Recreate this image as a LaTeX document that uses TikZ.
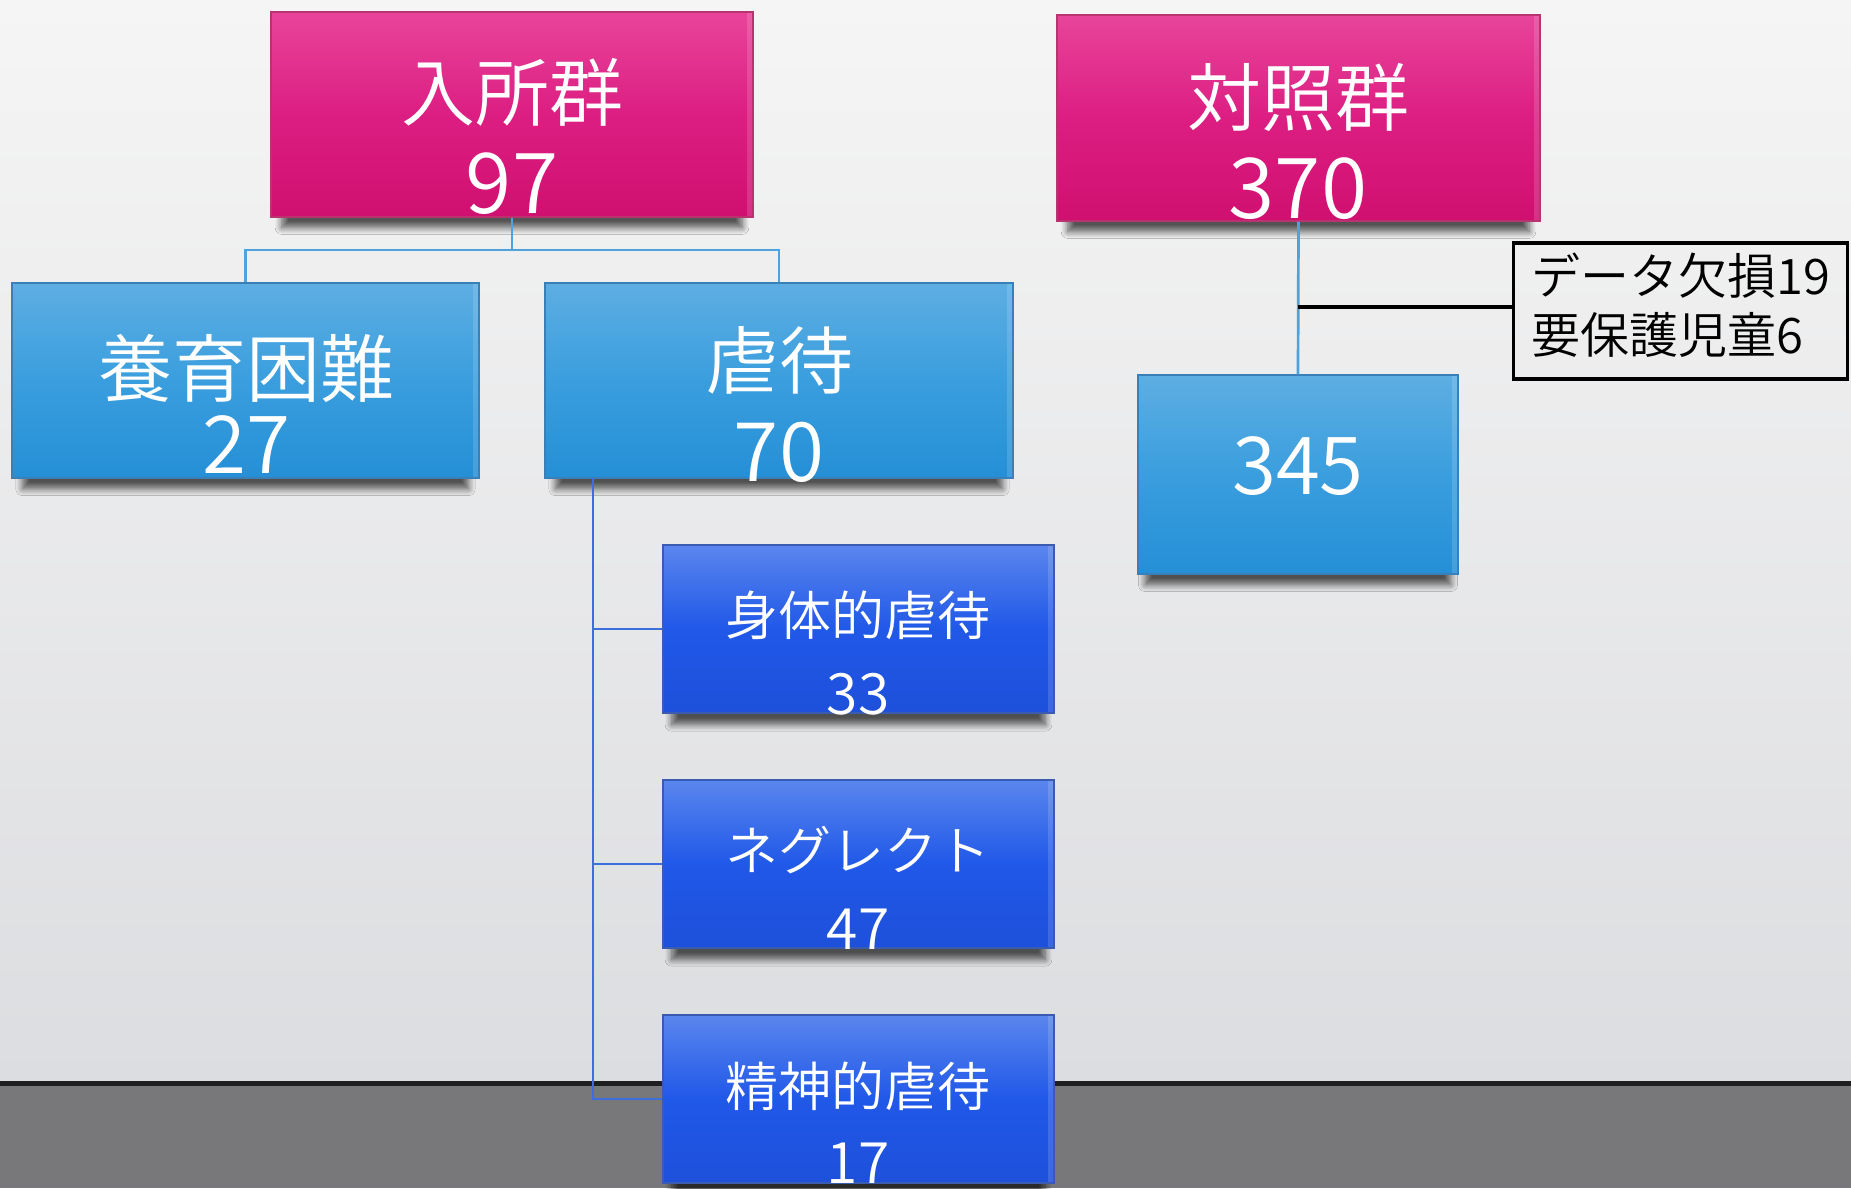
\documentclass[tikz,border=0pt]{standalone}
\usepackage{fontspec}
\setmainfont{Noto Sans CJK JP DemiLight}
\usetikzlibrary{shadows.blur}
\definecolor{bgT}{HTML}{F5F5F5}
\definecolor{bgB}{HTML}{DCDDE0}
\definecolor{floorC}{HTML}{78787A}
\definecolor{pinkT}{HTML}{E8449A}
\definecolor{pinkM}{HTML}{DC1E82}
\definecolor{pinkB}{HTML}{D01070}
\definecolor{pinkE}{HTML}{B8336F}
\definecolor{lbT}{HTML}{5DAEE2}
\definecolor{lbM}{HTML}{3A9EDE}
\definecolor{lbB}{HTML}{258FD6}
\definecolor{lbE}{HTML}{3A80B8}
\definecolor{dbT}{HTML}{5A86EE}
\definecolor{dbM}{HTML}{2058E8}
\definecolor{dbB}{HTML}{1E50DA}
\definecolor{dbE}{HTML}{3A5CB0}
\definecolor{lineLB}{HTML}{4EA3DC}
\definecolor{lineDB}{HTML}{3C6EE0}
\newcommand\myfs[1]{\fontsize{#1}{#1}\selectfont}
\tikzset{
  box/.style={rectangle, inner sep=0pt, line width=0.6pt,
    blur shadow={shadow xshift=0pt, shadow yshift=-8pt, shadow blur radius=3.5pt,
      shadow blur steps=8, shadow opacity=65, shadow scale=0.955},
    path picture={\fill[white, opacity=0.14]
      ([xshift=-3pt]path picture bounding box.north east) rectangle (path picture bounding box.south east);}},
  pinkbox/.style={box, top color=pinkT, bottom color=pinkB, middle color=pinkM, draw=pinkE},
  lbbox/.style={box, top color=lbT, bottom color=lbB, middle color=lbM, draw=lbE},
  dbbox/.style={box, top color=dbT, bottom color=dbB, middle color=dbM, draw=dbE},
  lbl/.style={text=white, inner sep=0pt},
  conLB/.style={draw=lineLB, line width=1.35pt},
  conDB/.style={draw=lineDB, line width=1.35pt},
}
\begin{document}
\begin{tikzpicture}[x=0.5pt,y=-0.5pt]
\useasboundingbox (0,0) rectangle (1851,1188);
\clip (0,0) rectangle (1851,1188);
% background
\fill[top color=bgT, bottom color=bgB] (0,0) rectangle (1851,1082);
\fill[floorC] (0,1082) rectangle (1851,1188);
\draw[line width=2.5pt, black!88] (0,1083) -- (1851,1083);

% junction coordinates
\coordinate (j1) at (512,250);
\coordinate (g0) at (593,478);
\coordinate (t1) at (1298,307);

% boxes
\node[pinkbox, minimum width=241pt, minimum height=102.5pt] (nyu) at (512,114.5) {};
\node[pinkbox, minimum width=241.5pt, minimum height=103pt] (taisho) at (1298.5,118) {};
\node[lbbox, minimum width=233.5pt, minimum height=97.5pt] (yoiku) at (245.5,380.5) {};
\node[lbbox, minimum width=234pt, minimum height=97.5pt] (gyaku) at (779,380.5) {};
\node[lbbox, minimum width=160pt, minimum height=99.5pt] (b345) at (1298,474.5) {};
\node[dbbox, minimum width=195.5pt, minimum height=84pt] (shintai) at (858.5,629) {};
\node[dbbox, minimum width=195.5pt, minimum height=84pt] (neglect) at (858.5,864) {};
\node[dbbox, minimum width=195.5pt, minimum height=84pt] (seishin) at (858.5,1099) {};
\node[draw=black, line width=1.6pt, fill=none, minimum width=167pt, minimum height=68pt, inner sep=0pt] (note) at (1680.5,311) {};

% connectors
\draw[conLB] (nyu.south) -- (j1) -| (yoiku.north);
\draw[conLB] (j1) -| (gyaku.north);
\draw[conDB] (g0) |- (shintai.west);
\draw[conDB] (g0) |- (neglect.west);
\draw[conDB] (g0) |- (seishin.west);
\draw[conLB] (taisho.south) -- (b345.north);
\draw[line width=2pt, black] (t1) -- (t1 -| note.west);

% labels
\node[lbl, font=\myfs{37pt}] (nyuT) at (512,92) {入所群};
\node[lbl, font=\myfs{42pt}] (nyuN) at (512,184) {97};
\node[lbl, font=\myfs{37pt}] (taishoT) at (1298,97) {対照群};
\node[lbl, font=\myfs{42pt}] (taishoN) at (1298,189) {370};
\node[lbl, font=\myfs{37pt}] (yoikuT) at (246,368) {養育困難};
\node[lbl, font=\myfs{40pt}] (yoikuN) at (246,445) {27};
\node[lbl, font=\myfs{37pt}] (gyakuT) at (779,360) {虐待};
\node[lbl, font=\myfs{41pt}] (gyakuN) at (779,452) {70};
\node[lbl, font=\myfs{40pt}] (b345N) at (1298,466) {345};
\node[lbl, font=\myfs{26.5pt}] (shintaiT) at (858,615) {身体的虐待};
\node[lbl, font=\myfs{28.5pt}] (shintaiN) at (858,694) {33};
\node[lbl, font=\myfs{26.5pt}] (neglectT) at (858,850) {ネグレクト};
\node[lbl, font=\myfs{28.5pt}] (neglectN) at (858,929) {47};
\node[lbl, font=\myfs{26.5pt}] (seishinT) at (858,1086) {精神的虐待};
\node[lbl, font=\myfs{28.5pt}] (seishinN) at (858,1163) {17};
\node[inner sep=0pt, anchor=west, align=left, text=black, font=\fontsize{24.5pt}{29.5pt}\selectfont] (noteT) at (1531,305) {データ欠損19\\要保護児童6};
\end{tikzpicture}
\end{document}
